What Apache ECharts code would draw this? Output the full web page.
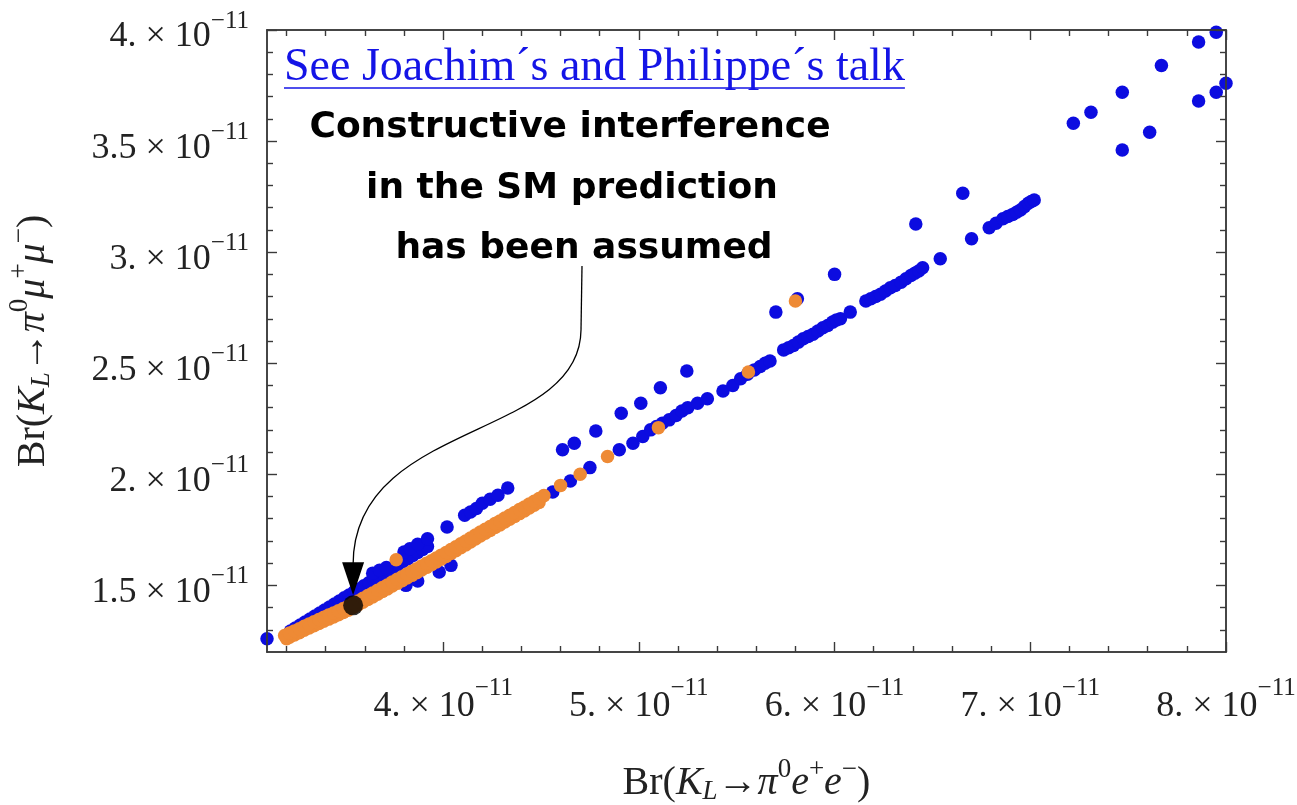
<!DOCTYPE html>
<html>
<head>
<meta charset="utf-8">
<script src="https://cdn.jsdelivr.net/npm/echarts@6/dist/echarts.min.js"></script>
<style>
  html, body { margin: 0; padding: 0; background: #ffffff; }
  #chart { width: 1297px; height: 805px; }
</style>
</head>
<body>
<div id="chart"></div>
<script>
// All branching ratios below are in units of 1e-11.
const xRange = [3.1, 8.0];
const yRange = [1.2, 4.0];
const xMajorTicks = [4, 5, 6, 7, 8];
const xMinorTicks = [3.2, 3.4, 3.6, 3.8, 4.2, 4.4, 4.6, 4.8, 5.2, 5.4, 5.6, 5.8,
                     6.2, 6.4, 6.6, 6.8, 7.2, 7.4, 7.6, 7.8];
const yMajorTicks = [1.5, 2, 2.5, 3, 3.5, 4];
const yMinorTicks = [1.3, 1.4, 1.6, 1.7, 1.8, 1.9, 2.1, 2.2, 2.3, 2.4, 2.6, 2.7, 2.8, 2.9,
                     3.1, 3.2, 3.3, 3.4, 3.6, 3.7, 3.8, 3.9];

// Blue scan points: [Br(KL -> pi0 e+ e-), Br(KL -> pi0 mu+ mu-)]
const blueOutlier = [[3.10, 1.26]];
const blueUpperEdge = [
  [3.22, 1.294], [3.245, 1.308], [3.27, 1.321], [3.295, 1.335], [3.32, 1.348], [3.345, 1.362],
  [3.37, 1.376], [3.395, 1.389], [3.42, 1.403], [3.445, 1.416], [3.47, 1.430], [3.495, 1.444],
  [3.52, 1.457], [3.545, 1.471], [3.57, 1.484], [3.595, 1.498], [3.62, 1.512], [3.645, 1.525],
  [3.67, 1.539], [3.695, 1.552], [3.72, 1.566], [3.745, 1.580], [3.77, 1.593], [3.795, 1.607],
  [3.82, 1.620], [3.845, 1.634], [3.87, 1.648], [3.895, 1.661], [3.92, 1.675]
];
const blueUpperBranch = [
  [3.64, 1.555], [3.675, 1.568], [3.71, 1.58], [3.80, 1.65], [3.83, 1.665], [3.87, 1.685],
  [3.92, 1.71], [4.02, 1.763], [4.11, 1.816], [4.14, 1.83], [4.17, 1.846], [4.20, 1.87],
  [4.24, 1.888], [4.28, 1.906], [4.33, 1.938],
  [4.61, 2.11], [4.67, 2.14], [4.78, 2.195], [4.91, 2.275], [5.01, 2.32], [5.11, 2.39],
  [5.245, 2.465], [5.70, 2.73], [5.81, 2.79], [6.00, 2.90], [6.415, 3.127], [6.655, 3.265],
  [7.22, 3.58], [7.31, 3.63], [7.47, 3.72], [7.67, 3.84], [7.86, 3.946], [7.95, 3.99]
];
const blueLowerBranch = [[3.81, 1.50], [3.87, 1.52], [3.98, 1.56], [4.04, 1.59]];
const blueMainBranch = [
  [4.56, 1.92], [4.65, 1.97], [4.75, 2.03], [4.90, 2.11], [4.97, 2.14], [5.02, 2.17],
  [5.06, 2.20], [5.09, 2.215], [5.12, 2.23], [5.155, 2.245], [5.19, 2.265], [5.22, 2.285],
  [5.25, 2.30], [5.30, 2.32], [5.35, 2.34], [5.43, 2.375], [5.48, 2.40],
  [5.52, 2.43], [5.555, 2.45], [5.59, 2.47], [5.62, 2.485], [5.645, 2.50], [5.67, 2.51],
  [5.74, 2.56], [5.765, 2.57], [5.79, 2.58], [5.815, 2.595], [5.84, 2.61], [5.865, 2.62],
  [5.89, 2.63], [5.915, 2.645], [5.94, 2.66], [5.965, 2.67], [5.99, 2.685], [6.01, 2.695],
  [6.03, 2.70], [6.08, 2.73],
  [6.16, 2.78], [6.185, 2.79], [6.21, 2.80], [6.235, 2.81], [6.26, 2.825], [6.285, 2.84],
  [6.31, 2.85], [6.34, 2.865], [6.365, 2.88], [6.39, 2.895], [6.41, 2.905], [6.43, 2.915],
  [6.45, 2.93], [6.54, 2.97], [6.70, 3.06],
  [6.79, 3.11], [6.825, 3.13], [6.86, 3.15], [6.885, 3.16], [6.91, 3.17], [6.93, 3.18],
  [6.95, 3.19], [6.97, 3.205], [6.99, 3.22], [7.005, 3.228], [7.02, 3.235],
  [7.47, 3.46], [7.61, 3.54], [7.86, 3.68], [7.95, 3.72], [8.00, 3.76]
];

// Orange scan points
const orangeBandUpper = [
  [3.19, 1.274], [3.215, 1.285], [3.24, 1.295], [3.265, 1.305], [3.29, 1.316], [3.315, 1.326],
  [3.34, 1.336], [3.365, 1.346], [3.39, 1.356], [3.415, 1.366], [3.44, 1.376], [3.465, 1.386],
  [3.49, 1.396], [3.515, 1.406], [3.54, 1.418], [3.565, 1.430], [3.59, 1.442], [3.615, 1.454],
  [3.64, 1.466], [3.665, 1.478], [3.69, 1.490], [3.715, 1.502], [3.74, 1.515], [3.765, 1.527],
  [3.79, 1.539], [3.815, 1.551], [3.84, 1.563], [3.865, 1.575], [3.89, 1.587], [3.915, 1.599],
  [3.94, 1.611], [3.965, 1.623], [3.99, 1.636], [4.015, 1.648], [4.04, 1.661], [4.065, 1.674],
  [4.09, 1.687], [4.115, 1.700], [4.14, 1.713], [4.165, 1.727], [4.19, 1.740], [4.215, 1.753],
  [4.24, 1.765], [4.265, 1.778], [4.29, 1.790], [4.315, 1.803], [4.34, 1.816], [4.365, 1.828],
  [4.39, 1.841], [4.415, 1.853], [4.44, 1.866], [4.465, 1.879], [4.49, 1.891], [4.515, 1.904]
];
const orangeBandLower = [
  [3.20, 1.260], [3.215, 1.267], [3.24, 1.277], [3.265, 1.287], [3.29, 1.298], [3.315, 1.308],
  [3.34, 1.318], [3.365, 1.328], [3.39, 1.338], [3.415, 1.348], [3.44, 1.358], [3.465, 1.368],
  [3.49, 1.378], [3.515, 1.388], [3.54, 1.400], [3.565, 1.412], [3.59, 1.424], [3.615, 1.436],
  [3.64, 1.448], [3.665, 1.460], [3.69, 1.472], [3.715, 1.484], [3.74, 1.497], [3.765, 1.509],
  [3.79, 1.521], [3.815, 1.533], [3.84, 1.545], [3.865, 1.557], [3.89, 1.569], [3.915, 1.581],
  [3.94, 1.593], [3.965, 1.605], [3.99, 1.618], [4.015, 1.630], [4.04, 1.643], [4.065, 1.656],
  [4.09, 1.669], [4.115, 1.682], [4.14, 1.695], [4.165, 1.709], [4.19, 1.722], [4.215, 1.735],
  [4.24, 1.747], [4.265, 1.760], [4.29, 1.772], [4.315, 1.785], [4.34, 1.798], [4.365, 1.810],
  [4.39, 1.823], [4.415, 1.835], [4.44, 1.848], [4.465, 1.861], [4.49, 1.873]
];
const orangeSparse = [[3.76, 1.615], [4.60, 1.95], [4.70, 2.00], [4.84, 2.08], [5.10, 2.21],
                      [5.56, 2.46], [5.80, 2.78]];

// Standard Model prediction (constructive interference)
const smPoint = [[3.54, 1.41]];

const annotationLines = ['Constructive interference', 'in the SM prediction', 'has been assumed'];
const linkText = 'See Joachim\u00b4s and Philippe\u00b4s talk';

const SERIF = '"Liberation Serif", "Times New Roman", serif';
const INK = '#222222';
const FRAME = '#3a3a3a';

function sciLabel(v) {
  const mant = Number.isInteger(v) ? v + '.' : String(v);
  return '{m|' + mant + ' \u00d7 10}{s|\u221211}';
}

const xLabelRich = {
  m: { fontFamily: SERIF, fontSize: 36, color: INK, verticalAlign: 'middle' },
  s: { fontFamily: SERIF, fontSize: 25, color: INK, verticalAlign: 'middle', padding: [0, 0, 36, 0] }
};
const yLabelRich = {
  m: { fontFamily: SERIF, fontSize: 36, color: INK, verticalAlign: 'middle', padding: [14, 0, 0, 0] },
  s: { fontFamily: SERIF, fontSize: 25, color: INK, verticalAlign: 'middle', padding: [0, 0, 17, 0] }
};
const titleRich = {
  n: { fontFamily: SERIF, fontSize: 40, color: INK, verticalAlign: 'middle' },
  i: { fontFamily: SERIF, fontSize: 40, fontStyle: 'italic', color: INK, verticalAlign: 'middle' },
  sub: { fontFamily: SERIF, fontSize: 27, fontStyle: 'italic', color: INK, verticalAlign: 'middle', padding: [16, 0, 0, 0] },
  sup: { fontFamily: SERIF, fontSize: 27, color: INK, verticalAlign: 'middle', padding: [0, 0, 28, 0] }
};

function frameAxis(position, ticks, tickLen, labelled) {
  const isX = position === 'bottom' || position === 'top';
  const range = isX ? xRange : yRange;
  const ax = {
    type: 'value',
    position: position,
    min: range[0],
    max: range[1],
    axisLine: { show: true, onZero: false, lineStyle: { color: FRAME, width: 1.5 } },
    axisTick: { show: true, inside: true, length: tickLen, customValues: ticks,
                lineStyle: { color: FRAME, width: 1.4 } },
    axisLabel: { show: false },
    splitLine: { show: false },
    minorTick: { show: false },
    z: 3
  };
  if (labelled) {
    ax.axisLabel = isX
      ? { show: true, customValues: ticks, formatter: sciLabel, rich: xLabelRich, margin: 24 }
      : { show: true, customValues: ticks, formatter: sciLabel, rich: yLabelRich, margin: 18 };
  }
  return ax;
}

const xAxes = [
  frameAxis('bottom', xMajorTicks, 10, true),
  frameAxis('bottom', xMinorTicks, 6, false),
  frameAxis('top', xMajorTicks, 10, false),
  frameAxis('top', xMinorTicks, 6, false)
];
xAxes[0].name = '{n|Br(}{i|K}{sub|L}{n|\u2192}{i|\u03c0}{sup|0}{i|e}{sup|+}{i|e}{sup|\u2212}{n|)}';
xAxes[0].nameLocation = 'middle';
xAxes[0].nameGap = 104;
xAxes[0].nameTextStyle = { rich: titleRich };

const yAxes = [
  frameAxis('left', yMajorTicks, 10, true),
  frameAxis('left', yMinorTicks, 6, false),
  frameAxis('right', yMajorTicks, 10, false),
  frameAxis('right', yMinorTicks, 6, false)
];
yAxes[0].name = '{n|Br(}{i|K}{sub|L}{n|\u2192}{i|\u03c0}{sup|0}{i|\u03bc}{sup|+}{i|\u03bc}{sup|\u2212}{n|)}';
yAxes[0].nameLocation = 'middle';
yAxes[0].nameRotate = 90;
yAxes[0].nameGap = 206;
yAxes[0].nameTextStyle = { rich: titleRich };

const chart = echarts.init(document.getElementById('chart'), null, { renderer: 'canvas' });

chart.setOption({
  animation: false,
  backgroundColor: '#ffffff',
  grid: { left: 267, right: 71, top: 30, bottom: 153, containLabel: false, outerBoundsMode: 'none' },
  xAxis: xAxes,
  yAxis: yAxes,
  series: [
    {
      name: 'scan (blue)', type: 'scatter', xAxisIndex: 0, yAxisIndex: 0,
      symbolSize: 13.5, itemStyle: { color: '#0c0ce0', opacity: 1 },
      data: [].concat(blueOutlier, blueUpperEdge, blueUpperBranch, blueLowerBranch, blueMainBranch),
      z: 2
    },
    {
      name: 'scan (orange)', type: 'scatter', xAxisIndex: 0, yAxisIndex: 0,
      symbolSize: 13.5, itemStyle: { color: '#ee8a35', opacity: 1 },
      data: [].concat(orangeBandLower, orangeBandUpper, orangeSparse),
      z: 3
    },
    {
      name: 'SM', type: 'scatter', xAxisIndex: 0, yAxisIndex: 0,
      symbolSize: 20, itemStyle: { color: '#000000' },
      data: smPoint, z: 4
    }
  ]
});

// Annotations: link text, explanatory note and the arrow pointing at the SM point.
const measure = document.createElement('canvas').getContext('2d');
const linkFont = '46px "Liberation Serif"';
measure.font = linkFont;
const linkWidth = measure.measureText(linkText).width;
const linkLeft = 284;

const sm = chart.convertToPixel({ xAxisIndex: 0, yAxisIndex: 0 }, smPoint[0]);
const tipY = sm[1] - 10;
const headLen = 33;
const headHalf = 11;
const startX = 582, startY = 266, bendY = 330;

const noteCenters = [[570, 128], [572, 189], [584, 249]];

const graphics = [
  {
    type: 'text', z: 10,
    style: { text: linkText, x: linkLeft, y: 68, font: linkFont, fill: '#1414e6',
             textAlign: 'left', textVerticalAlign: 'middle' }
  },
  {
    type: 'line', z: 10,
    shape: { x1: linkLeft, y1: 88, x2: linkLeft + linkWidth, y2: 88 },
    style: { stroke: '#1414e6', lineWidth: 1.6 }
  },
  {
    type: 'line', z: 10,
    shape: { x1: startX, y1: startY, x2: startX - 1, y2: bendY },
    style: { stroke: '#000', lineWidth: 1.3 }
  },
  {
    type: 'bezierCurve', z: 10,
    shape: {
      x1: startX - 1, y1: bendY,
      cpx1: startX - 2, cpy1: 440,
      cpx2: sm[0], cpy2: 420,
      x2: sm[0], y2: tipY - headLen + 2
    },
    style: { stroke: '#000', lineWidth: 1.3, fill: null }
  },
  {
    type: 'polygon', z: 10,
    shape: { points: [[sm[0] - headHalf, tipY - headLen], [sm[0] + headHalf, tipY - headLen], [sm[0], tipY]] },
    style: { fill: '#000' }
  }
];
annotationLines.forEach(function (line, i) {
  graphics.push({
    type: 'text', z: 10,
    style: { text: line, x: noteCenters[i][0], y: noteCenters[i][1],
             font: 'bold 36px "DejaVu Sans"', fill: '#000', textAlign: 'center', textVerticalAlign: 'middle' }
  });
});
chart.setOption({ graphic: graphics });
</script>
</body>
</html>
